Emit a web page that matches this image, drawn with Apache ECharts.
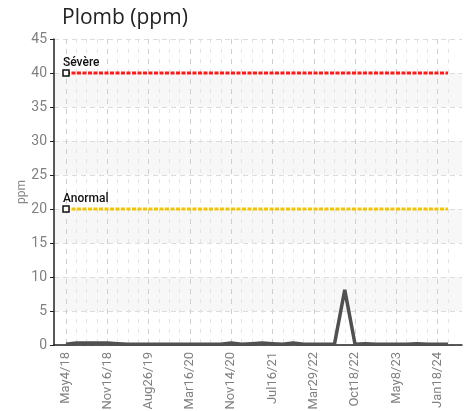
<!DOCTYPE html>
<html>
<head>
<meta charset="utf-8">
<script src="https://cdn.jsdelivr.net/npm/echarts@6/dist/echarts.min.js"></script>
<style>html,body{margin:0;padding:0;background:#fff}#c{width:467px;height:411px}</style>
</head>
<body>
<div id="c"></div>
<script>
var categories = [
  'May4/18','Jun22/18','Aug10/18','Sep28/18',
  'Nov16/18','Jan24/19','Apr3/19','Jun14/19',
  'Aug26/19','Oct18/19','Dec9/19','Jan30/20',
  'Mar16/20','May13/20','Jul14/20','Sep12/20',
  'Nov14/20','Jan13/21','Mar15/21','May14/21',
  'Jul16/21','Sep17/21','Nov21/21','Jan24/22',
  'Mar29/22','May16/22','Jul5/22','Aug26/22',
  'Oct18/22','Dec6/22','Feb1/23','Mar21/23',
  'May8/23','Jul10/23','Sep14/23','Nov15/23',
  'Jan18/24','Mar12/24'
];
var leadValues = [
  0.1,0.3,0.3,0.3,
  0.3,0.2,0.1,0.1,
  0.1,0.1,0.1,0.1,
  0.1,0.1,0.1,0.1,
  0.3,0.1,0.2,0.3,
  0.2,0.1,0.3,0.1,
  0.1,0.1,0.1,8.1,
  0.1,0.2,0.1,0.1,
  0.1,0.1,0.2,0.1,
  0.1,0.1
];
var severeLevel = 40;
var abnormalLevel = 20;
var severeLabel = 'Sévère';
var abnormalLabel = 'Anormal';
var yMin = 0, yMax = 45, yStep = 5;

var narrow = "Roboto,'Liberation Sans',sans-serif";

function thresholdData(level, label) {
  return categories.map(function (c, i) {
    if (i === 0) {
      return {
        value: level,
        symbol: 'rect',
        symbolSize: 6,
        itemStyle: { color: '#fff', borderColor: '#111', borderWidth: 1.5 },
        label: {
          show: true, formatter: label, position: 'top', align: 'left',
          offset: [-3, 5], color: '#111', fontSize: 12, fontWeight: 500,
          fontFamily: narrow
        }
      };
    }
    return { value: level, symbol: 'none' };
  });
}

var chart = echarts.init(document.getElementById('c'), null, { renderer: 'canvas' });
chart.setOption({
  animation: false,
  title: {
    text: 'Plomb (ppm)', left: 57, top: 3,
    textStyle: { fontSize: 21, fontWeight: 'normal', color: '#222', fontFamily: "'Open Sans',sans-serif" }
  },
  grid: [
    { left: 54, right: 5, top: 39, bottom: 66, outerBoundsMode: 'none', containLabel: false },
    { left: 66, right: 19, top: 39, bottom: 66, outerBoundsMode: 'none', containLabel: false }
  ],
  xAxis: [
    {
      gridIndex: 0, type: 'value', min: 0, max: 1,
      axisLine: { show: true, onZero: false, lineStyle: { color: '#222', width: 1.5 } },
      axisTick: { show: false }, axisLabel: { show: false }, splitLine: { show: false }
    },
    {
      gridIndex: 1, type: 'category', data: categories, boundaryGap: false,
      axisLine: { show: false }, axisTick: { show: false },
      axisLabel: {
        interval: 3, rotate: 90, color: '#808080', fontSize: 13, margin: 7,
        fontFamily: narrow
      },
      splitLine: { show: true, interval: 0, lineStyle: { color: '#e4e4e4', type: [4, 6], width: 1 } }
    },
    {
      gridIndex: 1, type: 'category', data: categories, boundaryGap: false,
      axisLine: { show: false }, axisTick: { show: false }, axisLabel: { show: false },
      splitLine: { show: true, interval: 3, lineStyle: { color: '#cfcfcf', type: [5, 5], width: 1 } }
    }
  ],
  yAxis: [
    {
      gridIndex: 0, type: 'value', min: yMin, max: yMax, interval: yStep,
      name: 'ppm', nameLocation: 'middle', nameGap: 26, nameMoveOverlap: false,
      nameTextStyle: { color: '#888', fontSize: 12, fontFamily: narrow },
      axisLine: { show: true, lineStyle: { color: '#222', width: 1.5 } },
      axisTick: { show: true, length: 4, lineStyle: { color: '#222' } },
      axisLabel: { color: '#808080', fontSize: 14, margin: 7, fontFamily: narrow },
      splitLine: { show: true, lineStyle: { color: '#dcdcdc', type: [5, 4] } },
      splitArea: { show: true, areaStyle: { color: ['rgba(255,255,255,0)', '#f7f7f7'] } }
    },
    {
      gridIndex: 1, type: 'value', min: yMin, max: yMax, interval: yStep, show: false
    }
  ],
  series: [
    {
      type: 'line', xAxisIndex: 1, yAxisIndex: 1, z: 3,
      data: thresholdData(severeLevel, severeLabel),
      lineStyle: { color: '#ff1a1a', width: 3, type: [4, 1.5] },
      silent: true
    },
    {
      type: 'line', xAxisIndex: 1, yAxisIndex: 1, z: 3,
      data: thresholdData(abnormalLevel, abnormalLabel),
      lineStyle: { color: '#f5c400', width: 3, type: [4, 1.5] },
      silent: true
    },
    {
      type: 'line', xAxisIndex: 1, yAxisIndex: 1, z: 4,
      data: leadValues, symbol: 'none',
      lineStyle: { color: '#505050', width: 3.5 }
    }
  ]
});
</script>
</body>
</html>
